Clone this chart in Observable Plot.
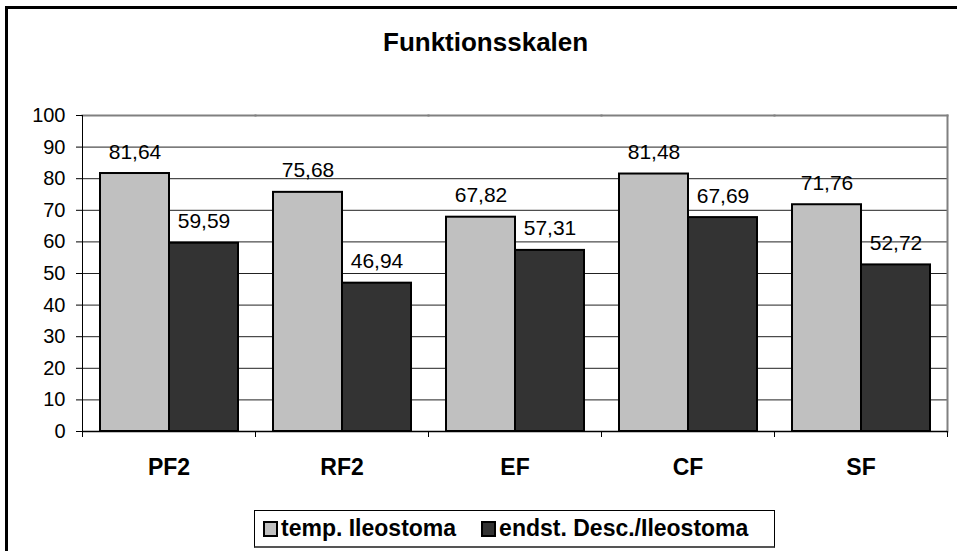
<!DOCTYPE html>
<html><head><meta charset="utf-8">
<script src="https://cdn.jsdelivr.net/npm/d3@7"></script>
<script src="https://cdn.jsdelivr.net/npm/@observablehq/plot@0.6"></script>
<style>
body{margin:0;background:#fff;font-family:"Liberation Sans",Arial,sans-serif;}
#wrap{position:relative;width:957px;height:551px;overflow:hidden;background:#fff;}
#border{position:absolute;left:5px;top:6px;width:1000px;height:1000px;border-left:3px solid #000;border-top:3px solid #000;}
#title{position:absolute;left:383px;top:29px;font-size:26px;line-height:26px;font-weight:bold;color:#000;white-space:nowrap;}
#chart{position:absolute;left:0;top:0;}
#legend{position:absolute;left:254px;top:510px;width:521px;height:38px;box-sizing:border-box;border:1px solid #000;border-bottom:2px solid #555;display:flex;align-items:center;padding-left:8px;font-size:23px;font-weight:bold;white-space:nowrap;}
.sw{display:inline-block;width:15px;height:16px;box-sizing:border-box;border:2px solid #000;margin-right:3px;}
.item{display:flex;align-items:center;margin-right:25px;}
</style></head>
<body>
<div id="wrap">
  <div id="border"></div>
  <div id="title">Funktionsskalen</div>
  <div id="chart"></div>
  <div id="legend"></div>
</div>
<script>
const categories = ["PF2", "RF2", "EF", "CF", "SF"];
const seriesNames = ["temp. Ileostoma", "endst. Desc./Ileostoma"];
const seriesColors = ["#c0c0c0", "#333333"];
const tempValues = [81.64, 75.68, 67.82, 81.48, 71.76];
const endstValues = [59.59, 46.94, 57.31, 67.69, 52.72];
const yTicks = [0, 10, 20, 30, 40, 50, 60, 70, 80, 90, 100];

const data = [];
categories.forEach((c, i) => {
  data.push({cat: c, series: seriesNames[0], value: tempValues[i]});
  data.push({cat: c, series: seriesNames[1], value: endstValues[i]});
});
const fmt = v => d3.format(".2f")(v).replace(".", ",");

const W = 957, H = 500, mL = 82, mR = 10, mT = 115, mB = 69;
const half = (W - mL - mR) / categories.length / 2;

const plot = Plot.plot({
  width: W, height: H,
  marginLeft: mL, marginRight: mR, marginTop: mT, marginBottom: mB,
  style: {fontFamily: "Liberation Sans, Arial, sans-serif", background: "transparent", color: "#000"},
  fx: {domain: categories, paddingInner: 0, paddingOuter: 0},
  x: {domain: seriesNames, paddingInner: 0, paddingOuter: 0.253},
  y: {domain: [0, 100]},
  color: {domain: seriesNames, range: seriesColors},
  marks: [
    Plot.gridY(yTicks, {stroke: "#222", strokeOpacity: 1, strokeWidth: 1}),
    Plot.frame({anchor: "top", stroke: "#808080", strokeWidth: 2}),
    Plot.frame({anchor: "right", facetAnchor: "right", stroke: "#808080", strokeWidth: 2}),
    Plot.barY(data, {fx: "cat", x: "series", y: "value", fill: "series", stroke: "#000", strokeWidth: 2}),
    Plot.text(data, {fx: "cat", x: "series", y: "value", text: d => fmt(d.value), lineAnchor: "bottom", dy: -15, fontSize: 21, fill: "#000"}),
    Plot.frame({anchor: "left", facetAnchor: "left", stroke: "#000", strokeWidth: 1}),
    Plot.ruleY([0], {stroke: "#000", strokeWidth: 1.5}),
    Plot.axisY({ticks: yTicks, tickSize: 6, tickPadding: 11, fontSize: 20, label: null}),
    Plot.axisX({ticks: [], label: null}),
    Plot.axisFx({anchor: "bottom", tickSize: 0, tickPadding: 27, fontSize: 23, fontWeight: "bold", label: null}),
    Plot.axisFx({anchor: "bottom", tickSize: 6, text: null, dx: -half, label: null}),
    Plot.axisFx({anchor: "bottom", tickSize: 6, text: null, dx: half, label: null})
  ]
});
document.getElementById("chart").appendChild(plot);

const legend = document.getElementById("legend");
seriesNames.forEach((s, i) => {
  const item = document.createElement("span");
  item.className = "item";
  const sw = document.createElement("span");
  sw.className = "sw";
  sw.style.background = seriesColors[i];
  item.appendChild(sw);
  item.appendChild(document.createTextNode(s));
  legend.appendChild(item);
});
</script>
</body></html>
